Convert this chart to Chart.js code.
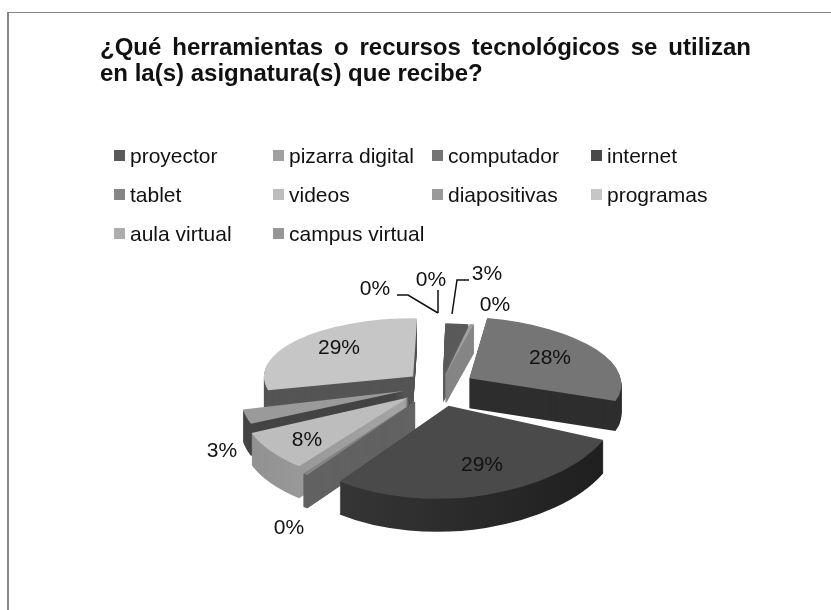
<!DOCTYPE html>
<html lang="es">
<head>
<meta charset="utf-8">
<style>html,body{margin:0;padding:0;background:#fff}canvas{display:block}</style>
<script src="https://cdn.jsdelivr.net/npm/chart.js@4"></script>
</head>
<body>
<canvas id="c" width="831" height="610"></canvas>
<script>
const titleLine1 = '¿Qué herramientas o recursos tecnológicos se utilizan';
const titleLine2 = 'en la(s) asignatura(s) que recibe?';
const categories = ['proyector','pizarra digital','computador','internet','tablet','videos','diapositivas','programas','aula virtual','campus virtual'];
const percentages = [2.6, 0.4, 27.6, 28.8, 0.4, 8, 3, 29.2, 0, 0];

const topColors  = ['#595959','#a0a0a0','#757575','#4a4a4a','#858585','#bdbdbd','#9a9a9a','#c6c6c6','#adadad','#969696'];
const sideColors = ['#5e5e5e','#868686','#2e2e2e',['#3c3c3c','#1e1e1e'],'#636363',['#8f8f8f','#bcbcbc'],'#444444','#555555','#777777','#666666'];
const labelAnchors = [[487,274],[495,305],[550,358],[482,465],[289,528],[307,440],[222,451],[339,348],[375,289],[431,280]];
const leaders = [[[469,280],[457,280],[452,314]],[[397,295],[408,295],[438,313]],[[438,290],[438,313]]];
const FONT = '"Liberation Sans", Arial, sans-serif';

const pie3d = {
  id: 'pie3d',
  afterInit(chart) {
    const ctx = chart.ctx, block = chart.titleBlock, orig = block.draw;
    block.draw = function () {
      ctx.save();
      ctx.font = 'bold 24px ' + FONT;
      const w = ctx.measureText(titleLine1).width;
      ctx.restore();
      ctx.wordSpacing = ((651 - w) / 6) + 'px';
      orig.call(this);
      ctx.wordSpacing = '0px';
    };
  },
  beforeDatasetsDraw(chart) {
    const ctx = chart.ctx, arcs = chart.getDatasetMeta(0).data;
    const items = arcs.map((arc, i) => {
      const h = (arc.startAngle + arc.endAngle) / 2;
      const m = h + Math.PI / 2;
      return { arc, i, h, c: Math.cos(m), s: Math.sin(m) };
    }).sort((a, b) => b.c - a.c);
    const R0 = arcs[0].outerRadius;
    const explode = 37 / 160 * R0;
    items.forEach(({ arc, i, h, c, s }) => {
      const rx = 158 - 14 * c, ry = 72 - 22 * c, depth = Math.round(31 - 2 * c);
      const sx = rx / R0, sy = ry / R0;
      const shear = c < 0 ? -0.07 : (s > 0 ? 0.11 * s : 0);
      const thin = arc.circumference < 0.1;
      const clone = Object.create(arc);
      const opts = { borderWidth: 0, borderColor: 'transparent', borderAlign: 'center', borderRadius: 0, borderDash: [], borderDashOffset: 0, borderJoinStyle: 'round', spacing: 0, offset: 0, circular: true, backgroundColor: topColors[i] };
      clone.options = opts;
      const place = (d) => {
        ctx.translate(arc.x, arc.y + d);
        ctx.scale(sx, sy);
        ctx.transform(1, 0, shear, 1, 0, 0);
        ctx.translate(explode * Math.cos(h), explode * Math.sin(h));
        ctx.translate(-arc.x, -arc.y);
      };
      let side = sideColors[i];
      if (Array.isArray(side)) {
        const g = ctx.createLinearGradient(arc.x - R0, 0, arc.x + R0, 0);
        g.addColorStop(0, side[0]); g.addColorStop(1, side[1]);
        side = g;
      }
      if (thin) { opts.borderWidth = 1; opts.borderColor = side; }
      const step = thin ? 0.5 : 1;
      for (let d = depth; d >= step; d -= step) {
        ctx.save(); place(d);
        opts.backgroundColor = side;
        clone.draw(ctx);
        ctx.restore();
      }
      if (thin) { opts.borderWidth = 0; }
      ctx.save(); place(0);
      opts.backgroundColor = topColors[i];
      clone.draw(ctx);
      ctx.restore();
    });
    return false;
  },
  afterDraw(chart) {
    const ctx = chart.ctx;
    ctx.save();
    // frame
    ctx.fillStyle = '#868686';
    ctx.fillRect(8, 12, chart.width - 8, 1);
    ctx.fillRect(7, 12, 2, chart.height - 12);
    // legend
    ctx.font = '21px ' + FONT;
    ctx.textBaseline = 'middle';
    ctx.textAlign = 'left';
    categories.forEach((name, i) => {
      const col = i % 4, row = Math.floor(i / 4);
      const x = 114 + col * 159, y = 156 + row * 39;
      ctx.fillStyle = topColors[i];
      ctx.fillRect(x, y - 6, 11, 11);
      ctx.fillStyle = '#111';
      ctx.fillText(name, x + 16, y + 1);
    });
    // data labels
    ctx.textAlign = 'center';
    ctx.fillStyle = '#111';
    percentages.forEach((v, i) => {
      ctx.fillText(Math.round(v) + '%', labelAnchors[i][0], labelAnchors[i][1]);
    });
    // leader lines
    ctx.strokeStyle = '#111';
    ctx.lineWidth = 1.5;
    leaders.forEach(pts => {
      ctx.beginPath();
      pts.forEach((p, k) => k ? ctx.lineTo(p[0], p[1]) : ctx.moveTo(p[0], p[1]));
      ctx.stroke();
    });
    ctx.restore();
  }
};

new Chart(document.getElementById('c'), {
  type: 'pie',
  data: {
    labels: categories,
    datasets: [{ data: percentages, backgroundColor: topColors, borderWidth: 0, rotation: 1.5 }]
  },
  plugins: [pie3d],
  options: {
    responsive: false,
    animation: false,
    events: [],
    layout: { padding: { left: 100, right: 51, top: 35, bottom: 65 } },
    plugins: {
      legend: { display: false },
      tooltip: { enabled: false },
      title: { display: true, text: titleLine1, align: 'start', color: '#111', padding: 0,
               font: { family: FONT, size: 24, weight: 'bold', lineHeight: 1.1 } },
      subtitle: { display: true, text: titleLine2, align: 'start', color: '#111', padding: { top: 0, bottom: 137.2 },
               font: { family: FONT, size: 24, weight: 'bold', lineHeight: 1.1 } }
    }
  }
});
</script>
</body>
</html>
